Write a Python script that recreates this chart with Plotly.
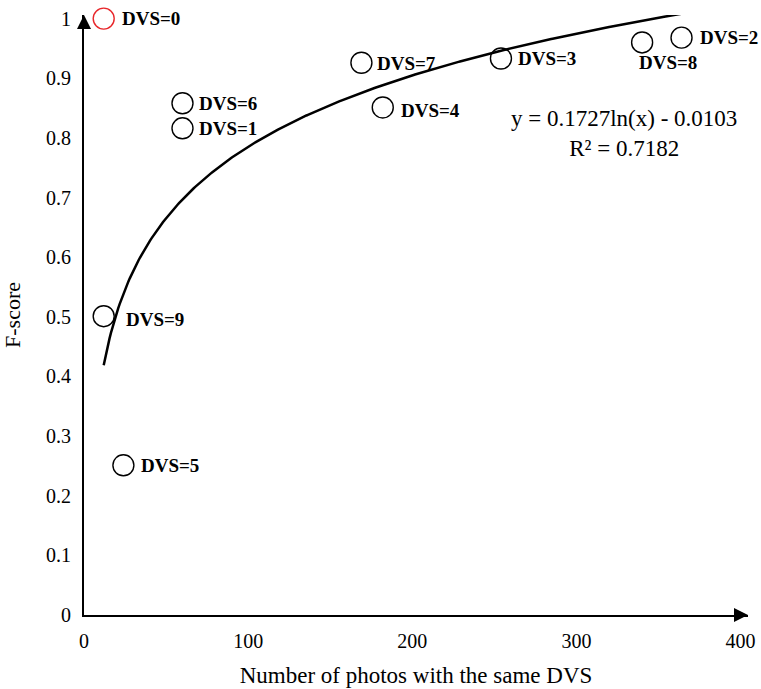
import numpy as np
import plotly.graph_objects as go

# DVS groups: photo counts and F-scores
dvs = [0, 1, 2, 3, 4, 5, 6, 7, 8, 9]
photo_count = [12, 60, 364, 254, 182, 24, 60, 169, 340, 12]
f_score = [1.0, 0.816, 0.968, 0.933, 0.851, 0.251, 0.858, 0.926, 0.960, 0.501]

# logarithmic trendline coefficients
coef_a = 0.1727
coef_b = -0.0103
r_squared = 0.7182

# label offsets in pixels (dx, dy) for each DVS label
label_offsets = {0: (16, 0), 1: (15, 0), 2: (16, 0), 3: (15, 0), 4: (16, -3),
                 5: (16, 0), 6: (15, 0), 7: (14, -1), 8: (-5, -20), 9: (20, -3)}

FONT = "Liberation Serif, Times New Roman, serif"
Y_TOP = 1.006
X_END = 404.5

fig = go.Figure()

# trendline
xt = np.linspace(min(photo_count), max(photo_count), 400)
yt = coef_a * np.log(xt) + coef_b
fig.add_trace(go.Scatter(x=xt, y=yt, mode="lines",
                         line=dict(color="black", width=2.5),
                         hoverinfo="skip", showlegend=False))

# data points (DVS=0 highlighted in red)
colors = ["#e8262a" if d == 0 else "black" for d in dvs]
fig.add_trace(go.Scatter(x=photo_count, y=f_score, mode="markers",
                         marker=dict(symbol="circle-open", size=21,
                                     color=colors, line=dict(width=1.4, color=colors)),
                         cliponaxis=False, showlegend=False))

annotations = []
for d, xv, yv in zip(dvs, photo_count, f_score):
    dx, dy = label_offsets[d]
    annotations.append(dict(x=xv, y=yv, xref="x", yref="y", text=f"<b>DVS={d}</b>",
                            showarrow=False, xanchor="left", yanchor="middle",
                            xshift=dx, yshift=dy,
                            font=dict(family=FONT, size=19, color="black")))

# trendline equation and R²
annotations.append(dict(x=0.8135, y=0.802, xref="paper", yref="paper",
                        text=f"y = {coef_a}ln(x) - {abs(coef_b)}<br>R² = {r_squared}",
                        showarrow=False, xanchor="center", yanchor="middle", align="center",
                        font=dict(family=FONT, size=23, color="black")))

# axis arrowheads
annotations.append(dict(x=0, y=Y_TOP, xref="x", yref="y", ax=0, ay=14,
                        text="", showarrow=True, arrowhead=2, arrowsize=1.4,
                        arrowwidth=2, arrowcolor="black"))
annotations.append(dict(x=X_END, y=0, xref="x", yref="y", ax=-14, ay=0,
                        text="", showarrow=True, arrowhead=2, arrowsize=1.4,
                        arrowwidth=2, arrowcolor="black"))

fig.update_layout(
    width=761, height=689,
    margin=dict(l=84, r=13, t=15, b=74),
    plot_bgcolor="white", paper_bgcolor="white",
    annotations=annotations,
    font=dict(family=FONT, color="black"),
)
fig.update_xaxes(range=[0, X_END], tickvals=[0, 100, 200, 300, 400],
                 showgrid=False, zeroline=False, showline=True, automargin=False,
                 linecolor="black", linewidth=2, ticks="",
                 tickfont=dict(family=FONT, size=20), ticklabelstandoff=7,
                 title=dict(text="Number of photos with the same DVS",
                            font=dict(family=FONT, size=23), standoff=16))
fig.update_yaxes(range=[0, Y_TOP], tickvals=[0, 0.1, 0.2, 0.3, 0.4, 0.5, 0.6, 0.7, 0.8, 0.9, 1],
                 showgrid=False, zeroline=False, showline=True, automargin=False,
                 linecolor="black", linewidth=2, ticks="",
                 tickfont=dict(family=FONT, size=20), ticklabelstandoff=7,
                 title=dict(text="F-score", font=dict(family=FONT, size=22), standoff=19))

fig.write_html("out.html")
